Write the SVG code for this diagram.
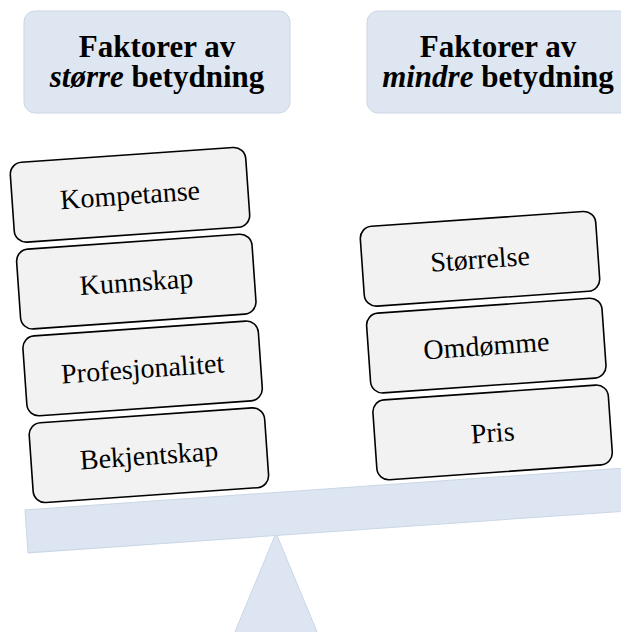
<svg xmlns="http://www.w3.org/2000/svg" width="621" height="632" viewBox="0 0 621 632">
  <style>
    .head rect { fill: #dee6f1; stroke: #ccd6e5; stroke-width: 1; }
    .head text { font-family: "Liberation Serif", "Times New Roman", serif; font-weight: bold; font-size: 31px; fill: #000; text-anchor: middle; }
    .factor rect { fill: #f2f2f2; stroke: #000; stroke-width: 1.6; }
    .factor text { font-family: "Liberation Serif", "Times New Roman", serif; font-size: 28px; fill: #000; text-anchor: middle; }
    .scale { fill: #dce5f1; stroke: #cad6e7; stroke-width: 1; }
  </style>

  <!-- column headings -->
  <g id="head-major" class="head">
    <rect x="24" y="11" width="266" height="102" rx="11"/>
    <text x="157" y="57">Faktorer av</text>
    <text x="157" y="87"><tspan font-style="italic">større</tspan> betydning</text>
  </g>
  <g id="head-minor" class="head">
    <rect x="367" y="11" width="266" height="102" rx="11"/>
    <text x="498" y="57">Faktorer av</text>
    <text x="498" y="87"><tspan font-style="italic">mindre</tspan> betydning</text>
  </g>

  <!-- balance: fulcrum and tilted beam -->
  <g id="scale">
    <polygon id="fulcrum" class="scale" points="276,533 229.5,645 322.5,645"/>
    <rect id="beam" class="scale" x="0" y="0" width="640" height="43" transform="translate(25 510) rotate(-4)"/>
  </g>

  <!-- left pan: factors of greater importance -->
  <g id="kompetanse" class="factor" transform="translate(130 194.8) rotate(-4)">
    <rect x="-118" y="-40" width="236" height="80" rx="12"/>
    <text x="0" y="9.5">Kompetanse</text>
  </g>
  <g id="kunnskap" class="factor" transform="translate(136.3 281.6) rotate(-4)">
    <rect x="-118" y="-40" width="236" height="80" rx="12"/>
    <text x="0" y="9.5">Kunnskap</text>
  </g>
  <g id="profesjonalitet" class="factor" transform="translate(142.6 368.4) rotate(-4)">
    <rect x="-118" y="-40" width="236" height="80" rx="12"/>
    <text x="0" y="9.5">Profesjonalitet</text>
  </g>
  <g id="bekjentskap" class="factor" transform="translate(148.9 455.2) rotate(-4)">
    <rect x="-118" y="-40" width="236" height="80" rx="12"/>
    <text x="0" y="9.5">Bekjentskap</text>
  </g>

  <!-- right pan: factors of lesser importance -->
  <g id="storrelse" class="factor" transform="translate(480 258.8) rotate(-4)">
    <rect x="-118" y="-40" width="236" height="80" rx="12"/>
    <text x="0" y="9.5">Størrelse</text>
  </g>
  <g id="omdomme" class="factor" transform="translate(486.3 345.6) rotate(-4)">
    <rect x="-118" y="-40" width="236" height="80" rx="12"/>
    <text x="0" y="9.5">Omdømme</text>
  </g>
  <g id="pris" class="factor" transform="translate(492.6 432.4) rotate(-4)">
    <rect x="-118" y="-40" width="236" height="80" rx="12"/>
    <text x="0" y="9.5">Pris</text>
  </g>

  <!-- no connectors in this figure -->
  <g id="connectors"/>
</svg>
